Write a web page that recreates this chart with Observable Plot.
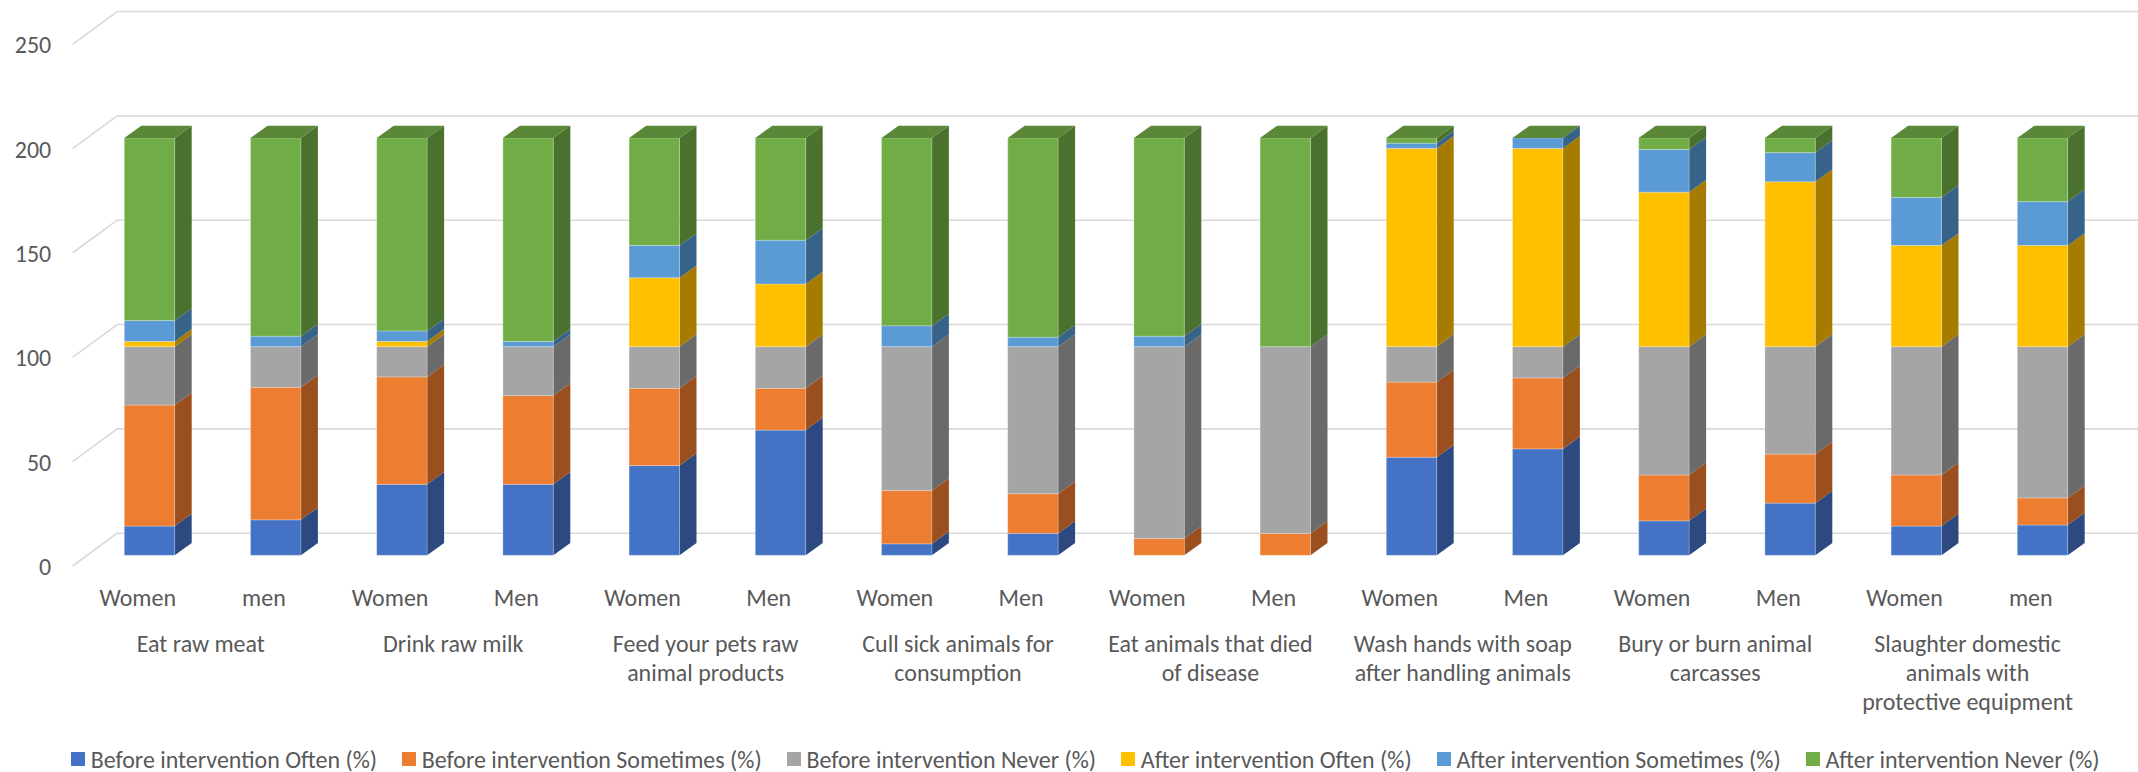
<!DOCTYPE html>
<html><head><meta charset="utf-8">
<script src="https://cdn.jsdelivr.net/npm/d3@7"></script>
<script src="https://cdn.jsdelivr.net/npm/@observablehq/plot@0.6"></script>
<style>
body{margin:0;background:#fff;}
#wrap{position:relative;width:2138px;height:772px;overflow:hidden;background:#fff;}
#legend{position:absolute;left:71px;top:745px;height:28px;display:flex;align-items:center;white-space:nowrap;color:#595959;}
.item{display:flex;align-items:center;margin-right:25px;}
.sw{width:14px;height:14px;margin-right:5.7px;flex:none;}
</style></head><body><div id="wrap"></div>
<script>
// ---------- data ----------
const genders = ["Women","men","Women","Men","Women","Men","Women","Men","Women","Men","Women","Men","Women","Men","Women","men"];
const categories = [
  "Eat raw meat",
  "Drink raw milk",
  "Feed your pets raw\nanimal products",
  "Cull sick animals for\nconsumption",
  "Eat animals that died\nof disease",
  "Wash hands with soap\nafter handling animals",
  "Bury or burn animal\ncarcasses",
  "Slaughter domestic\nanimals with\nprotective equipment"
];
const seriesNames = [
  "Before intervention Often (%)",
  "Before intervention Sometimes (%)",
  "Before intervention Never (%)",
  "After intervention Often (%)",
  "After intervention Sometimes (%)",
  "After intervention Never (%)"
];
const beforeOften     = [14, 17, 34, 34, 43, 60, 5.5, 10.5, 0, 0, 47, 51, 16.5, 25, 14, 14.5];
const beforeSometimes = [58, 63.5, 51.5, 42.5, 37, 20, 25.5, 19, 8, 10.5, 36, 34, 22, 23.5, 24.5, 13];
const beforeNever     = [28, 19.5, 14.5, 23.5, 20, 20, 69, 70.5, 92, 89.5, 17, 15, 61.5, 51.5, 61.5, 72.5];
const afterOften      = [2.5, 0, 2.5, 0, 33, 30, 0, 0, 0, 0, 95, 95, 74, 79, 48.5, 48.5];
const afterSometimes  = [10, 5, 5, 2.5, 15.5, 21, 10, 4.5, 5, 0, 2.5, 5, 20.5, 14, 23, 21];
const afterNever      = [87.5, 95, 92.5, 97.5, 51.5, 49, 90, 95.5, 95, 100, 2.5, 0, 5.5, 7, 28.5, 30.5];
const yTicks = [0, 50, 100, 150, 200, 250];

// ---------- style ----------
const seriesColors = ["#4472C4", "#ED7D31", "#A5A5A5", "#FFC000", "#5B9BD5", "#70AD47"];
const sideColors   = ["#2C4A80", "#9B4F1F", "#6A6A6A", "#A67C00", "#386388", "#4A712D"];
const topColor = "#5A8738";
const textColor = "#595959";
const gridColor = "#D9D9D9";
const FONT = "Carlito, Calibri, Lato, sans-serif";

// font size so that text widths resemble the original
const ctx = document.createElement("canvas").getContext("2d");
ctx.font = `100px ${FONT}`;
const fs = 100 * 286.6 / ctx.measureText(seriesNames[0]).width;

// ---------- scales / 3D geometry ----------
const xDomain = [0, genders.length - 1];
const xRange = [149.5, 2042.5];
const yDomain = [0, 250];
const pyUnit = 2.0867;                    // px per value unit
const yRange = [555.3, 555.3 - 250 * pyUnit];
const pxUnit = (xRange[1] - xRange[0]) / (xDomain[1] - xDomain[0]);
const hw = 25.2 / pxUnit;                 // half bar width
const dX = 17 / pxUnit, dY = 12.3 / pyUnit;   // bar depth
const floorFrontX = (72.7 - xRange[0]) / pxUnit, floorFrontY = (555.3 - 565) / pyUnit;
const wallX = (116.7 - xRange[0]) / pxUnit, wallY = (555.3 - 532.7) / pyUnit;
const wallEndX = (2138 - xRange[0]) / pxUnit;
const labOff = 12.3 / pxUnit;

// ---------- derived tables ----------
const allSeries = [beforeOften, beforeSometimes, beforeNever, afterOften, afterSometimes, afterNever];
const segments = [];
genders.forEach((g, i) => {
  let lo = 0;
  allSeries.forEach((vals, s) => {
    const v = vals[i];
    segments.push({i, s, lo, hi: lo + v, v});
    lo += v;
  });
});
const visible = segments.filter(d => d.v > 0);
const totals = genders.map((g, i) => d3.sum(allSeries, a => a[i]));

const gridPts = yTicks.flatMap(t => [
  {t, x: floorFrontX, y: t + floorFrontY},
  {t, x: wallX, y: t + wallY},
  {t, x: wallEndX, y: t + wallY}
]);
const sidePts = visible.flatMap(d => [
  {key: d.i * 10 + d.s, c: sideColors[d.s], x: d.i + hw, y1: d.lo, y2: d.hi},
  {key: d.i * 10 + d.s, c: sideColors[d.s], x: d.i + hw + dX, y1: d.lo + dY, y2: d.hi + dY}
]);
const topPts = totals.flatMap((t, i) => [
  {i, y: t, x1: i - hw, x2: i + hw},
  {i, y: t + dY, x1: i - hw + dX, x2: i + hw + dX}
]);

const chart = Plot.plot({
  width: 2138,
  height: 735,
  x: {type: "linear", domain: xDomain, range: xRange, axis: null},
  y: {type: "linear", domain: yDomain, range: yRange, axis: null},
  color: {type: "identity"},
  style: {background: "white", overflow: "visible", fontFamily: FONT},
  marks: [
    Plot.line(gridPts, {x: "x", y: "y", z: "t", stroke: gridColor, strokeWidth: 1.6}),
    Plot.text(yTicks, {x: floorFrontX, y: t => t + floorFrontY, text: d => String(d), textAnchor: "end",
      dx: -22, dy: 1.7, fontSize: fs, fill: textColor}),
    Plot.areaY(sidePts, {x: "x", y1: "y1", y2: "y2", z: "key", fill: "c"}),
    Plot.rect(visible, {x1: d => d.i - hw, x2: d => d.i + hw, y1: "lo", y2: "hi",
      fill: d => seriesColors[d.s], stroke: "#ffffff", strokeOpacity: 0.25, strokeWidth: 1}),
    Plot.areaX(topPts, {y: "y", x1: "x1", x2: "x2", z: "i", fill: topColor}),
    Plot.text(genders, {x: (d, i) => i - labOff, y: 0, text: d => d, dy: 42.7, fontSize: fs, fill: textColor}),
    Plot.text(categories, {x: (d, i) => 2 * i + 0.5 - labOff, y: 0, text: d => d, lineAnchor: "top",
      dy: 76, lineHeight: 28.8 / fs, fontSize: fs, fill: textColor})
  ]
});

const wrap = document.getElementById("wrap");
wrap.appendChild(chart);
const legend = d3.select(wrap).append("div").attr("id", "legend")
  .style("font-family", FONT).style("font-size", fs + "px");
seriesNames.forEach((n, s) => {
  const it = legend.append("div").attr("class", "item");
  it.append("div").attr("class", "sw").style("background", seriesColors[s]);
  it.append("span").text(n);
});
</script>
</body></html>
